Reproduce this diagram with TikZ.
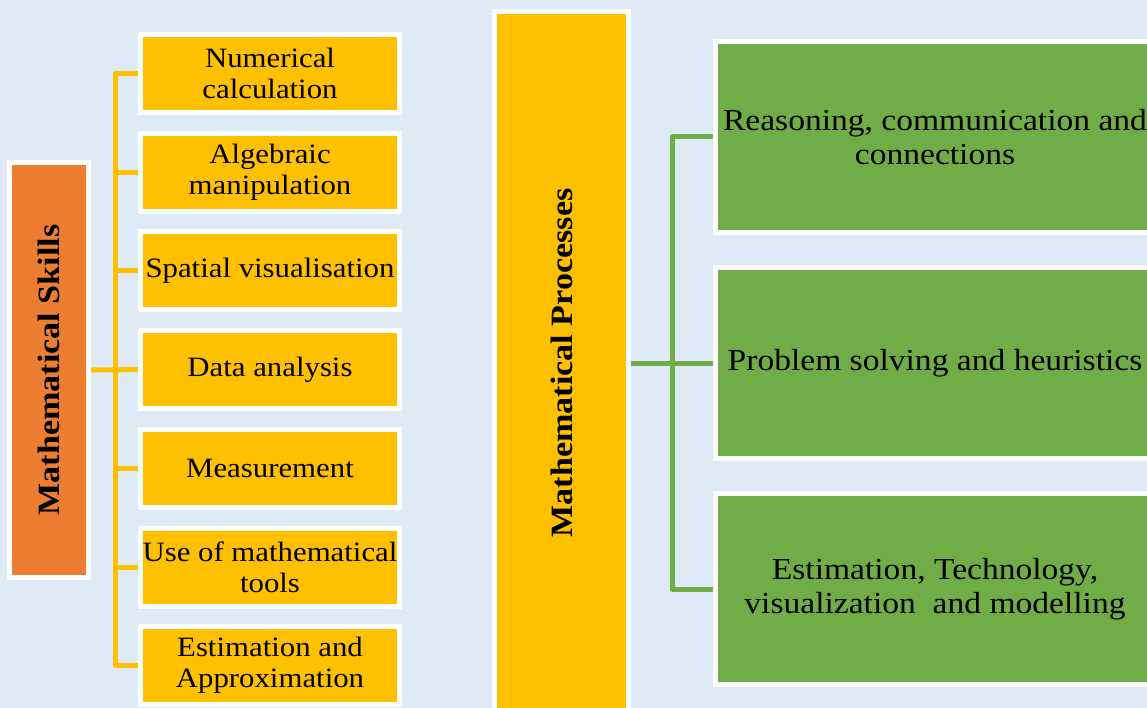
\documentclass[tikz,border=0pt]{standalone}
\usepackage{fontspec}
\setmainfont[FakeStretch=1.1]{Liberation Serif}
\usepackage{graphicx}
\usepackage{tikz}
\usepackage{xcolor}
\usetikzlibrary{positioning}
\definecolor{bgblue}{HTML}{DEEBF7}
\definecolor{skyellow}{HTML}{FFC000}
\definecolor{skorange}{HTML}{ED7D31}
\definecolor{prgreen}{HTML}{70AD47}
\tikzstyle{skill}=[draw=white,line width=5pt,fill=skyellow,minimum width=259pt,minimum height=78pt,inner sep=1pt,outer sep=2.5pt,align=center,font=\fontsize{28}{31}\selectfont]
\tikzstyle{process}=[draw=white,line width=5pt,fill=prgreen,minimum width=439pt,minimum height=191pt,inner sep=1pt,outer sep=2.5pt,align=center,font=\fontsize{30.5}{34}\selectfont]
\tikzstyle{title}=[draw=white,line width=5pt,inner sep=0pt,outer sep=2.5pt,font=\fontsize{31}{34}\selectfont\bfseries]
\tikzstyle{skilllink}=[line width=5pt,draw=skyellow,line join=round]
\tikzstyle{proclink}=[line width=5pt,draw=prgreen,line join=round]

\begin{document}
\begin{tikzpicture}[x=1pt,y=-1pt,node distance=15.7pt]
    \useasboundingbox (0,0) rectangle (1147,708);
    \clip (0,0) rectangle (1147,708);
    \fill[bgblue] (0,0) rectangle (1147,708);

    % skills
    \node[title, fill=skorange, minimum width=79pt, minimum height=415pt] (skills) at (49,370) {\rotatebox{90}{Mathematical Skills}};
    \node[skill] (sk1) at (270,73.5) {Numerical\\calculation};
    \node[skill, below=of sk1] (sk2) {Algebraic\\manipulation};
    \node[skill, below=of sk2] (sk3) {Spatial visualisation};
    \node[skill, below=of sk3] (sk4) {Data analysis};
    \node[skill, below=of sk4] (sk5) {Measurement};
    \node[skill, below=of sk5] (sk6) {Use of mathematical\\tools};
    \node[skill, below=of sk6] (sk7) {Estimation and\\Approximation};

    % processes
    \node[title, fill=skyellow, minimum width=134pt, minimum height=703pt] (proc) at (561.5,363) {\rotatebox{90}{Mathematical Processes}};
    \node[process] (pr1) at (935,137) {Reasoning, communication and\\connections};
    \node[process, below=30pt of pr1] (pr2) {Problem solving and heuristics};
    \node[process, below=30pt of pr2] (pr3) {Estimation, Technology,\\visualization\ \ and modelling};

    \draw[skilllink] (sk1.west) -- ++(-23,0) |- (sk7.west);
    \draw[skilllink] (sk2.west) -- ++(-23,0);
    \draw[skilllink] (sk3.west) -- ++(-23,0);
    \draw[skilllink] (skills.east) -- (sk4.west);
    \draw[skilllink] (sk5.west) -- ++(-23,0);
    \draw[skilllink] (sk6.west) -- ++(-23,0);

    \draw[proclink] (pr1.west) -- ++(-41,0) |- (pr3.west);
    \draw[proclink] (proc.east) -- (pr2.west);
\end{tikzpicture}
\end{document}
